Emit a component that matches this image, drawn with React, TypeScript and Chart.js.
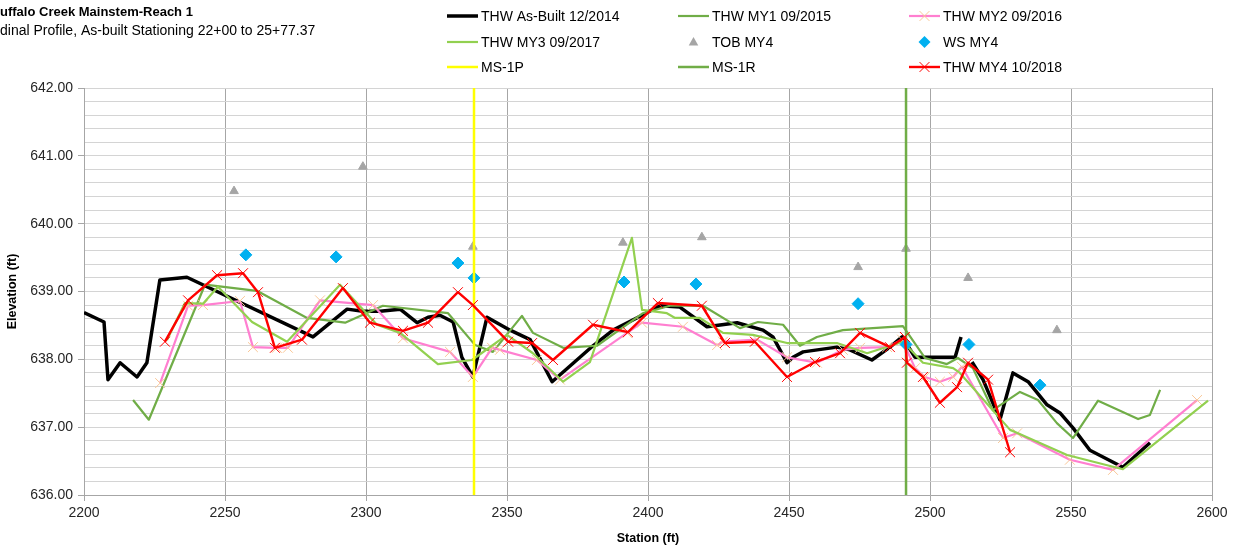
import React, { useEffect, useRef } from 'react';
import { Chart, registerables } from 'chart.js';

Chart.register(...registerables);

type P = [number, number | null];

const TITLE_LINES = ['Buffalo Creek Mainstem-Reach 1', 'Longitudinal Profile, As-built Stationing 22+00 to 25+77.37'];
const TITLE_HIDDEN = ['B', 'Longitu'];
const X_TITLE = 'Station (ft)';
const Y_TITLE = 'Elevation (ft)';
const X_MIN = 2200, X_MAX = 2600, X_STEP = 50;
const Y_MIN = 636, Y_MAX = 642, Y_STEP = 0.2;

const asBuilt: P[] = [
  [2200, 638.69], [2207.1, 638.55], [2208.5, 637.70], [2212.8, 637.95], [2218.8, 637.74], [2222.3, 637.95],
  [2226.9, 639.17], [2236.5, 639.21], [2281.2, 638.33], [2293.3, 638.74], [2298.9, 638.71], [2305.0, 638.71],
  [2312.1, 638.74], [2318.1, 638.54], [2322.0, 638.62], [2326.2, 638.65], [2330.9, 638.55], [2334.0, 638.03],
  [2337.9, 637.74], [2342.9, 638.62], [2351.1, 638.43], [2358.2, 638.29], [2366.0, 637.67], [2380.5, 638.20],
  [2387.6, 638.43], [2397.9, 638.65], [2404.3, 638.79], [2411.3, 638.77], [2420.9, 638.48], [2431.6, 638.54],
  [2440.8, 638.43], [2444.3, 638.33], [2449.3, 637.95], [2451.4, 638.03], [2455.0, 638.11], [2467.0, 638.18],
  [2471.6, 638.14], [2479.4, 637.99], [2485.8, 638.18], [2490.1, 638.33], [2494.7, 638.03], [2508.9, 638.03],
  [2511.0, 638.33], [2512.5, null], [2514.9, 637.96], [2518.8, 637.70], [2524.8, 637.11], [2529.4, 637.80],
  [2534.8, 637.67], [2541.5, 637.33], [2546.1, 637.21], [2550.7, 636.99], [2556.7, 636.66], [2568.4, 636.41],
  [2578.0, 636.77],
];

const my1: P[] = [
  [2217.4, 637.40], [2223.0, 637.11], [2242.9, 639.10], [2261.3, 639.01], [2279.1, 638.61], [2292.6, 638.54],
  [2306.0, 638.79], [2329.1, 638.68], [2338.7, 638.21], [2345.0, 638.11], [2355.3, 638.64], [2359.2, 638.39],
  [2369.9, 638.17], [2381.9, 638.20], [2398.2, 638.68], [2407.8, 638.79], [2419.5, 638.79], [2432.6, 638.46],
  [2439.0, 638.55], [2447.9, 638.51], [2453.9, 638.20], [2459.9, 638.33], [2469.1, 638.43], [2490.4, 638.49],
  [2498.2, 638.02], [2506.0, 637.93], [2509.9, 638.02], [2515.2, 637.87], [2522.3, 637.25], [2531.9, 637.52],
  [2538.3, 637.40], [2545.0, 637.06], [2550.7, 636.84], [2559.6, 637.39], [2573.8, 637.12], [2578.0, 637.18],
  [2581.6, 637.55],
];

const my2: P[] = [
  [2227.0, 637.65], [2236.9, 638.79], [2242.2, 638.80], [2255.3, 638.86], [2259.9, 638.18], [2268.4, 638.17],
  [2272.3, 638.17], [2283.7, 638.87], [2302.5, 638.80], [2313.1, 638.31], [2329.8, 638.11], [2337.9, 637.74],
  [2344.7, 638.17], [2347.5, 638.14], [2360.6, 637.99], [2368.8, 637.70], [2392.6, 638.39], [2397.9, 638.54],
  [2412.4, 638.48], [2424.5, 638.21], [2426.6, 638.26], [2438.7, 638.29], [2449.3, 638.03], [2459.9, 637.95],
  [2469.1, 638.14], [2475.2, 638.17], [2484.8, 638.18], [2490.1, 638.29], [2494.7, 637.87], [2498.2, 637.74],
  [2503.5, 637.67], [2508.2, 637.74], [2511.3, 637.89], [2525.9, 636.84], [2530.9, 636.91], [2549.6, 636.52],
  [2564.9, 636.37], [2594.7, 637.40],
];

const my3: P[] = [
  [2229.4, 638.28], [2235.8, 638.83], [2242.2, 638.82], [2247.5, 639.07], [2259.6, 638.55], [2272.0, 638.26],
  [2290.8, 639.10], [2303.9, 638.51], [2312.1, 638.39], [2325.5, 637.93], [2337.6, 637.99], [2350.0, 638.36],
  [2359.2, 638.09], [2369.9, 637.67], [2379.4, 637.96], [2394.3, 639.79], [2397.9, 638.73], [2406.7, 638.68],
  [2409.6, 638.61], [2418.4, 638.61], [2426.6, 638.39], [2437.2, 638.36], [2449.3, 638.24], [2467.0, 638.24],
  [2477.7, 638.09], [2490.4, 638.26], [2497.5, 637.95], [2508.2, 637.87], [2510.6, 637.80], [2528.4, 636.96],
  [2531.2, 636.91], [2548.6, 636.59], [2568.4, 636.38], [2598.6, 637.39],
];

const tobMy4: P[] = [
  [2253.2, 640.48], [2298.9, 640.84], [2337.9, 639.66], [2391.1, 639.72], [2419.1, 639.80], [2474.5, 639.36],
  [2491.5, 639.63], [2513.5, 639.20], [2545.0, 638.43],
];

const wsMy4: P[] = [
  [2257.4, 639.54], [2289.4, 639.51], [2332.6, 639.42], [2338.3, 639.20], [2391.5, 639.14], [2417.0, 639.11],
  [2474.5, 638.82], [2491.5, 638.22], [2513.8, 638.22], [2539.0, 637.62],
];

const ms1P: P[] = [[2338.3, 636], [2338.3, 642]];
const ms1R: P[] = [[2491.5, 636], [2491.5, 642]];

const my4: P[] = [
  [2228.7, 638.26], [2236.9, 638.87], [2247.2, 639.24], [2256.4, 639.27], [2261.7, 638.99], [2267.7, 638.17],
  [2277.3, 638.29], [2291.8, 639.05], [2301.4, 638.54], [2313.1, 638.42], [2322.0, 638.54], [2332.6, 638.99],
  [2337.9, 638.80], [2350.4, 638.26], [2358.9, 638.24], [2366.3, 637.99], [2380.5, 638.51], [2392.9, 638.40],
  [2403.5, 638.83], [2419.1, 638.79], [2427.3, 638.24], [2437.9, 638.26], [2449.3, 637.74], [2459.2, 637.96],
  [2468.1, 638.09], [2475.2, 638.39], [2485.8, 638.18], [2491.1, 638.33], [2491.8, 637.95], [2497.5, 637.74],
  [2503.5, 637.36], [2509.6, 637.59], [2513.5, 637.95], [2520.6, 637.70], [2528.4, 636.63],
];

const FONT = "'Liberation Sans', Arial, sans-serif";
const PEACH = '#F9C796';

const xy = (arr: P[]) => arr.map(([x, y]) => ({ x, y }));

function drawMarker(ctx: CanvasRenderingContext2D, style: string, x: number, y: number, r: number, color: string) {
  ctx.save();
  ctx.strokeStyle = color;
  ctx.fillStyle = color;
  ctx.lineWidth = 1;
  ctx.beginPath();
  if (style === 'crossRot') {
    const d = r * Math.SQRT1_2;
    ctx.moveTo(x - d, y - d); ctx.lineTo(x + d, y + d);
    ctx.moveTo(x - d, y + d); ctx.lineTo(x + d, y - d);
    ctx.stroke();
  } else if (style === 'triangle') {
    ctx.moveTo(x, y - r);
    ctx.lineTo(x + r * 0.95, y + r * 0.7);
    ctx.lineTo(x - r * 0.95, y + r * 0.7);
    ctx.closePath();
    ctx.fill();
  } else if (style === 'rectRot') {
    ctx.moveTo(x, y - r); ctx.lineTo(x + r, y); ctx.lineTo(x, y + r); ctx.lineTo(x - r, y);
    ctx.closePath();
    ctx.fill();
  }
  ctx.restore();
}

const LEG_X0 = 447, LEG_COL_W = 231, LEG_LINE = 31;
const LEG_ROWS = [16, 42, 67];

const overlayPlugin = {
  id: 'overlay',
  afterDraw(chart: any) {
    const ctx: CanvasRenderingContext2D = chart.ctx;
    ctx.save();
    const titleFonts = [`bold 13px ${FONT}`, `14px ${FONT}`];
    const titleY = [12, 31];
    TITLE_LINES.forEach((t, i) => {
      ctx.font = titleFonts[i];
      ctx.fillStyle = '#000';
      ctx.textBaseline = 'middle';
      ctx.textAlign = 'left';
      const hidden = ctx.measureText(TITLE_HIDDEN[i]).width;
      ctx.fillText(t, -hidden, titleY[i]);
    });
    ctx.font = `14px ${FONT}`;
    ctx.textBaseline = 'middle';
    chart.data.datasets.forEach((ds: any, i: number) => {
      const col = i % 3, row = Math.floor(i / 3);
      const x0 = LEG_X0 + col * LEG_COL_W;
      const y = LEG_ROWS[row];
      if (ds.showLine) {
        ctx.strokeStyle = ds.borderColor;
        ctx.lineWidth = ds.borderWidth;
        ctx.beginPath();
        ctx.moveTo(x0, y);
        ctx.lineTo(x0 + LEG_LINE, y);
        ctx.stroke();
      }
      if (ds.pointRadius > 0) {
        drawMarker(ctx, ds.pointStyle, x0 + LEG_LINE / 2, y, ds.pointRadius, ds.pointBorderColor);
      }
      ctx.fillStyle = '#000';
      ctx.fillText(ds.label, x0 + LEG_LINE + 3, y + 1);
    });
    ctx.restore();
  },
};

export default function App() {
  const ref = useRef<HTMLCanvasElement>(null);
  useEffect(() => {
    if (!ref.current) return;
    const lineDs = (label: string, data: P[], color: string, width: number, order: number, extra: any = {}) => ({
      label, data: xy(data), showLine: true, borderColor: color, backgroundColor: color, borderWidth: width,
      pointRadius: 0, pointBorderColor: color, pointBackgroundColor: color, pointStyle: 'circle',
      borderJoinStyle: 'round', tension: 0, spanGaps: false, order, ...extra,
    });
    const chart = new Chart(ref.current, {
      type: 'scatter',
      data: {
        datasets: [
          lineDs('THW As-Built 12/2014', asBuilt, '#000000', 3.5, 8),
          lineDs('THW MY1 09/2015', my1, '#70AD47', 2.2, 7),
          lineDs('THW MY2 09/2016', my2, '#FF7FD0', 2.2, 6, {
            pointRadius: 7, pointStyle: 'crossRot', pointBorderColor: PEACH, pointBackgroundColor: PEACH, pointBorderWidth: 1,
          }),
          lineDs('THW MY3 09/2017', my3, '#92D050', 2.2, 5),
          {
            label: 'TOB MY4', data: xy(tobMy4), showLine: false, pointStyle: 'triangle', pointRadius: 5,
            pointBackgroundColor: '#A5A5A5', pointBorderColor: '#A5A5A5', borderColor: '#A5A5A5', backgroundColor: '#A5A5A5', order: 4,
          },
          {
            label: 'WS MY4', data: xy(wsMy4), showLine: false, pointStyle: 'rectRot', pointRadius: 6,
            pointBackgroundColor: '#00B0F0', pointBorderColor: '#00B0F0', borderColor: '#00B0F0', backgroundColor: '#00B0F0', order: 3,
          },
          lineDs('MS-1P', ms1P, '#FFFF00', 2.5, 2),
          lineDs('MS-1R', ms1R, '#70AD47', 2.5, 1),
          lineDs('THW MY4 10/2018', my4, '#FF0000', 2.4, 0, {
            pointRadius: 7, pointStyle: 'crossRot', pointBorderColor: '#FF0000', pointBackgroundColor: '#FF0000', pointBorderWidth: 1,
          }),
        ] as any,
      },
      options: {
        animation: false,
        responsive: false,
        events: [],
        layout: { padding: { top: 88, right: 29, left: 0, bottom: 0 } },
        plugins: { legend: { display: false }, tooltip: { enabled: false }, title: { display: false } },
        scales: {
          x: {
            type: 'linear',
            min: X_MIN, max: X_MAX,
            afterFit: (s: any) => { s.height = 57; },
            ticks: {
              stepSize: X_STEP, autoSkip: false, padding: 4, color: '#262626',
              font: { family: FONT, size: 14 },
              callback: (v: any) => String(v),
            },
            grid: { color: '#A6A6A6', lineWidth: 1, tickLength: 6, tickColor: '#A6A6A6' },
            border: { color: '#A6A6A6', width: 1 },
            title: { display: true, text: X_TITLE, color: '#000', font: { family: FONT, size: 12.5, weight: 'bold' }, padding: { top: 0, bottom: 6 } },
          },
          y: {
            type: 'linear',
            min: Y_MIN, max: Y_MAX,
            afterFit: (s: any) => { s.width = 84; },
            ticks: {
              stepSize: Y_STEP, autoSkip: false, padding: 5, color: '#262626',
              font: { family: FONT, size: 14 },
              callback: (v: any) => (Math.abs(v - Math.round(v)) < 1e-6 ? Number(v).toFixed(2) : ''),
            },
            grid: {
              color: '#D4D4D4', lineWidth: 1, tickLength: 6,
              tickColor: (c: any) => (c.tick && Math.abs(c.tick.value - Math.round(c.tick.value)) < 1e-6 ? '#A6A6A6' : 'rgba(0,0,0,0)'),
            },
            border: { color: '#A6A6A6', width: 1 },
            title: { display: true, text: Y_TITLE, color: '#000', font: { family: FONT, size: 12.5, weight: 'bold' }, padding: { top: 5, bottom: 0 } },
          },
        },
      } as any,
      plugins: [overlayPlugin],
    });
    return () => chart.destroy();
  }, []);
  return (
    <div style={{ position: 'absolute', left: 0, top: 0, width: 1241, height: 552, background: '#fff' }}>
      <canvas ref={ref} width={1241} height={552} style={{ display: 'block' }} />
    </div>
  );
}
